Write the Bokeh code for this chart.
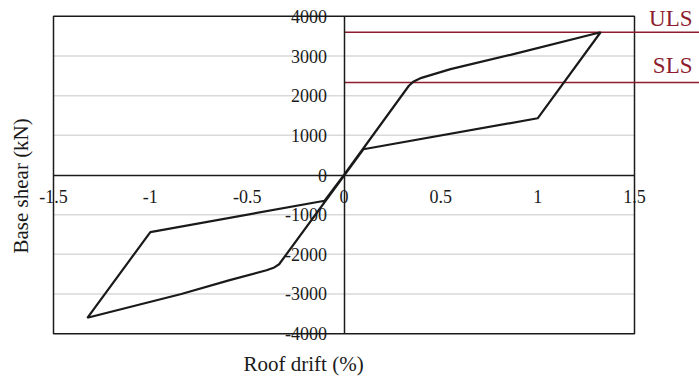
from bokeh.plotting import figure
from bokeh.models import Range1d, FixedTicker, Title, Label
from bokeh.embed import file_html
from bokeh.resources import INLINE

# ---- data ----
drift = [0.0, 0.335, 0.36, 0.40, 0.55, 0.86, 1.325, 1.0, 0.10,
         -0.335, -0.36, -0.40, -0.59, -0.84, -1.325, -1.0, -0.10, 0.0]
shear = [0, 2250, 2360, 2450, 2670, 3030, 3600, 1430, 650,
         -2250, -2330, -2400, -2650, -3000, -3600, -1440, -650, 0]

x_ticks = [-1.5, -1, -0.5, 0, 0.5, 1, 1.5]
x_tick_labels = ["-1.5", "-1", "-0.5", "0", "0.5", "1", "1.5"]
y_ticks = [-4000, -3000, -2000, -1000, 0, 1000, 2000, 3000, 4000]
y_tick_labels = ["-4000", "-3000", "-2000", "-1000", "0", "1000", "2000", "3000", "4000"]

limit_names = ["ULS", "SLS"]
limit_values = [3600, 2330]

x_title = "Roof drift (%)"
y_title = "Base shear (kN)"

# ---- layout (pixels) ----
XMIN, XMAX = -1.5, 1.5
YMIN, YMAX = -4000, 4000
W, H = 699, 378
BOX_L, BOX_R, BOX_T, BOX_B = 53, 634, 16, 337     # box edges on the page
FR_L, FR_R, FR_T, FR_B = 37, 699, 4, 350          # plotting frame edges
XS = (BOX_R - BOX_L) / (XMAX - XMIN)
YS = (BOX_B - BOX_T) / (YMAX - YMIN)
X_START = XMIN - (BOX_L - FR_L) / XS
X_END = XMAX + (FR_R - BOX_R) / XS
Y_TOP = YMAX + (BOX_T - FR_T) / YS
Y_BOT = YMIN - (FR_B - BOX_B) / YS
LABEL_LIFT_PX = [14, 17]

FONT = "Liberation Serif"
INK = "#1a1a1a"
RED = "#8c1c2e"

p = figure(width=W, height=H, x_range=Range1d(X_START, X_END), y_range=Range1d(Y_BOT, Y_TOP),
           output_backend="svg", toolbar_location=None,
           min_border_left=FR_L, min_border_right=W - FR_R, min_border_top=FR_T,
           min_border_bottom=H - FR_B)
p.outline_line_color = None
p.grid.visible = False
p.background_fill_color = "white"

# gridlines (inside box only)
grid_y = [t for t in y_ticks if t not in (0, YMIN, YMAX)]
p.segment(x0=[XMIN] * len(grid_y), x1=[XMAX] * len(grid_y), y0=grid_y, y1=grid_y,
          line_color="#d9d9d9", line_width=1.5)

# box frame
p.quad(left=[XMIN], right=[XMAX], bottom=[YMIN], top=[YMAX], fill_color=None,
       line_color=INK, line_width=1.5)

# limit lines
p.segment(x0=[0] * len(limit_values), x1=[X_END] * len(limit_values),
          y0=limit_values, y1=limit_values, line_color=RED, line_width=1.5)

# curve
p.line(drift, shear, line_color=INK, line_width=2.2)

for name, v, lift in zip(limit_names, limit_values, LABEL_LIFT_PX):
    p.add_layout(Label(x=X_END, y=v + lift / YS, text=name, text_align="right",
                       text_baseline="alphabetic", x_offset=-7,
                       text_font=FONT, text_font_size="23px", text_color=RED))

# axes through origin
xa = p.xaxis[0]
xa.fixed_location = 0
xa.bounds = (XMIN, XMAX)
xa.ticker = FixedTicker(ticks=x_ticks)
xa.major_label_overrides = {t: l for t, l in zip(x_ticks, x_tick_labels)}
ya = p.yaxis[0]
ya.fixed_location = 0
ya.bounds = (YMIN, YMAX)
ya.ticker = FixedTicker(ticks=y_ticks)
ya.major_label_overrides = {t: l for t, l in zip(y_ticks, y_tick_labels)}
for ax in (xa, ya):
    ax.major_tick_out = 0
    ax.major_tick_in = 0
    ax.minor_tick_out = 0
    ax.minor_tick_in = 0
    ax.axis_line_color = INK
    ax.axis_line_width = 1.5
    ax.major_label_text_font = FONT
    ax.major_label_text_font_size = "18px"
    ax.major_label_text_color = INK
xa.major_label_standoff = 15
ya.major_label_standoff = 17

p.add_layout(Title(text=x_title, align="left", offset=206, standoff=6, text_font=FONT,
                   text_font_size="21px", text_font_style="normal", text_color=INK), "below")
p.add_layout(Title(text=y_title, align="left", offset=93, standoff=10, text_font=FONT,
                   text_font_size="21px", text_font_style="normal", text_color=INK), "left")

open("out.html", "w").write(file_html(p, INLINE))
